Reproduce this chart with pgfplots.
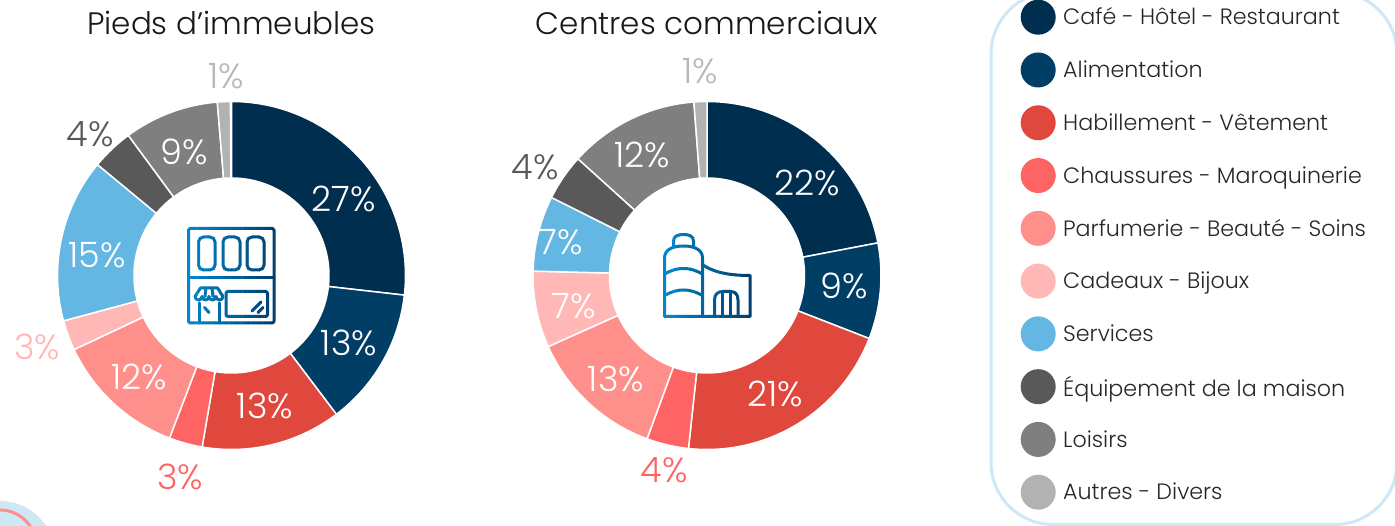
\documentclass[border=0pt]{standalone}
\usepackage{fontspec}
\setmainfont{Poppins Light}
\usepackage{pgfplots}
\usepackage{pgfplotstable}
\pgfplotsset{compat=1.18}

\definecolor{c0}{HTML}{002E4F}
\definecolor{c1}{HTML}{003E66}
\definecolor{c2}{HTML}{E0483E}
\definecolor{c3}{HTML}{FF6464}
\definecolor{c4}{HTML}{FF8F8B}
\definecolor{c5}{HTML}{FFB8B6}
\definecolor{c6}{HTML}{65B7E3}
\definecolor{c7}{HTML}{595959}
\definecolor{c8}{HTML}{7F7F7F}
\definecolor{c9}{HTML}{B2B2B2}
\definecolor{pale}{HTML}{CFE8F6}
\definecolor{iconL}{HTML}{0087CB}
\definecolor{iconR}{HTML}{003F70}
\definecolor{onepc}{HTML}{B8B8B8}

% share (%), printed label, label offset from the ring centre (px), label colour
\pgfplotstableread{
value label lx ly lc
26.8 27 112.5 76.5 white
12.9 13 117.5 -67.5 white
13.0 13 33.5 -130.5 white
3.1 3 -51.5 -201.5 c3
12.2 12 -92.5 -101.5 white
2.8 3 -194.5 -71.5 c5
15.2 15 -134.5 20.5 white
3.9 4 -141.5 141.5 c7
8.8 9 -47.5 123.5 white
1.2 1 -5.5 199.5 onepc
}\pieds
\pgfplotstableread{
value label lx ly lc
22.0 22 100 92.5 white
8.9 9 137 -10.5 white
20.8 21 68 -118.5 white
3.9 4 -43 -194.5 c3
12.7 13 -91 -103.5 white
7.1 7 -133 -30.5 white
7.0 7 -146 33.5 white
4.3 4 -172 108.5 c7
12.1 12 -65 120.5 white
1.2 1 -7 204.5 onepc
}\centres

\newcommand\pctfont{\fontsize{35}{38}\selectfont}
\def\rOut{174}
\def\rIn{97.5}

% one ring slice, from #1 % to #2 %, clockwise from the top
\newcommand\ringslice[3]{%
  \pgfmathsetmacro\aS{90-3.6*#1}%
  \pgfmathsetmacro\aE{90-3.6*#2}%
  \pgfmathtruncatemacro\nS{max(2,ceil((\aS-\aE)/1.5))}%
  \gdef\pts{}%
  \foreach \k in {0,...,\nS}{%
    \pgfmathsetmacro\aK{\aS+(\aE-\aS)*\k/\nS}%
    \xdef\pts{\pts(\aK,\rOut)}}%
  \foreach \k in {\nS,...,0}{%
    \pgfmathsetmacro\aK{\aS+(\aE-\aS)*\k/\nS}%
    \xdef\pts{\pts(\aK,\rIn)}}%
  \xdef\pts{\pts(\aS,\rOut)}%
  \edef\tmp{\noexpand\addplot[forget plot,fill=#3,draw=white,line width=1.5pt,data cs=polar] coordinates {\pts};}%
  \tmp
}

\newcommand\ringchart[1]{%
  \gdef\cum{0}%
  \pgfplotsforeachungrouped \i in {0,...,9}{%
    \pgfplotstablegetelem{\i}{value}\of#1\let\val\pgfplotsretval
    \pgfmathsetmacro\nxt{\cum+\val}%
    \ringslice{\cum}{\nxt}{c\i}%
    \xdef\cum{\nxt}%
  }%
  \pgfplotsforeachungrouped \i in {0,...,9}{%
    \pgfplotstablegetelem{\i}{label}\of#1\let\lb\pgfplotsretval
    \pgfplotstablegetelem{\i}{lx}\of#1\let\lx\pgfplotsretval
    \pgfplotstablegetelem{\i}{ly}\of#1\let\ly\pgfplotsretval
    \pgfplotstablegetelem{\i}{lc}\of#1\let\lc\pgfplotsretval
    \edef\tmp{\noexpand\node[text=\lc,font=\noexpand\pctfont,inner sep=0pt] at (axis cs:\lx,\ly) {\lb\noexpand\%};}%
    \tmp
  }%
}

\pgfplotsset{ring/.style={
    x=1pt,y=1pt,
    anchor=origin,
    xmin=-200,xmax=200,ymin=-210,ymax=246.5,
    hide axis,clip=false,
    title style={at={(0.5,1)},anchor=center,inner sep=0pt,
      font=\fontsize{31}{36}\selectfont,text=black!90},
  }}

\newcommand\shopicon{%
  \begin{scope}[line width=3pt,line join=round,line cap=round]
    \draw[rounded corners=1.5pt] (188.5,228.5) rectangle (274,323);
    \draw (188.5,277.5) -- (274,277.5);
    \draw[rounded corners=5pt] (198.5,237) rectangle (215,270);
    \draw[rounded corners=5pt] (223,237) rectangle (240,270);
    \draw[rounded corners=5pt] (247,237) rectangle (264,270);
    \draw[rounded corners=1.5pt] (226,291.5) rectangle (267.5,316.5);
    \draw (252,311) -- (261,302) (258,312.5) -- (263,307.5);
    \draw (200.5,288) -- (217.5,288) -- (223,296.5)
      arc (0:180:3.5) arc (0:180:3.5) arc (0:180:3.5) arc (0:180:3.5) -- cycle;
    \draw (206,288) -- (205,296.5) (212,288) -- (213,296.5);
    \draw (199,303) -- (199,323) (219.5,303) -- (219.5,323);
    \draw (204.5,307.5) -- (209,312.5);
  \end{scope}%
}
\newcommand\centreicon{%
  \begin{scope}[line width=3pt,line join=round,line cap=round]
    \draw (664.5,316.5) -- (750,316.5) -- (750,275.5)
      .. controls (725,275.5) and (712,271) .. (703,265);
    \draw (664.5,316.5) -- (664.5,258) .. controls (664.5,250) and (672,246) .. (683.5,246)
      .. controls (695,246) and (702.5,250) .. (702.5,258) -- (702.5,316.5);
    \draw (673.5,246) -- (673.5,241) .. controls (673.5,236) and (678,234.5) .. (683.5,234.5)
      .. controls (689,234.5) and (693.5,236) .. (693.5,241) -- (693.5,246);
    \draw (664.5,274) .. controls (672,270) and (677,268.5) .. (683.5,268.5)
      .. controls (690,268.5) and (695,270) .. (702.5,274);
    \draw (664.5,295.5) .. controls (672,291.5) and (677,290) .. (683.5,290)
      .. controls (690,290) and (695,291.5) .. (702.5,295.5);
    \draw (714.5,316.5) -- (714.5,300) .. controls (714.5,294) and (718,291.5) .. (723,291.5)
      -- (730,291.5) .. controls (735,291.5) and (738,294) .. (738,300) -- (738,316.5);
    \draw (722,292) -- (722,316.5) (730,292) -- (730,316.5);
  \end{scope}%
}
% the icons run from light to dark blue, left to right
\newcommand\gradicon[3]{%
  \foreach \s in {0,...,15}{%
    \pgfmathsetmacro\p{100-\s*100/15}%
    \begin{scope}
      \clip ({#1+\s*(#2-#1)/16},220) rectangle ({#1+(\s+1)*(#2-#1)/16+0.4},330);
      \begin{scope}[color=iconL!\p!iconR,draw=iconL!\p!iconR]
        #3
      \end{scope}
    \end{scope}
  }%
}

\begin{document}
\begin{tikzpicture}
  \useasboundingbox (0pt,0pt) rectangle (1395pt,526pt);
  \fill[white] (0pt,0pt) rectangle (1395pt,526pt);

  % page furniture, in pixel coordinates of the slide
  \begin{scope}[x=1pt,y=-1pt,shift={(0pt,526pt)}]
    \fill[pale] (0,556) circle (55);
    \draw[c4,line width=3pt] (0,546) circle (36);
    \draw[pale,line width=3pt,rounded corners=62pt] (991,-8) rectangle (1397,524.5);
  \end{scope}

  \begin{axis}[ring,at={(231.5pt,250.5pt)},
      title={Pieds d’immeubles},
      legend style={at={(axis cs:789,276)},anchor=north west,draw=none,fill=none,
        inner sep=0pt,row sep=17.78pt,column sep=7.5pt,
        font=\fontsize{22.2}{26}\selectfont,text=black!85,
        nodes={inner sep=0pt}},
      legend cell align=left,
      legend image code/.code={\path[#1] (17.5pt,0pt) circle (17.5pt);},
    ]
    \ringchart{\pieds}
    \addlegendimage{fill=c0,draw=none}\addlegendentry{Café - Hôtel - Restaurant}
    \addlegendimage{fill=c1,draw=none}\addlegendentry{Alimentation}
    \addlegendimage{fill=c2,draw=none}\addlegendentry{Habillement - Vêtement}
    \addlegendimage{fill=c3,draw=none}\addlegendentry{Chaussures - Maroquinerie}
    \addlegendimage{fill=c4,draw=none}\addlegendentry{Parfumerie - Beauté - Soins}
    \addlegendimage{fill=c5,draw=none}\addlegendentry{Cadeaux - Bijoux}
    \addlegendimage{fill=c6,draw=none}\addlegendentry{Services}
    \addlegendimage{fill=c7,draw=none}\addlegendentry{Équipement de la maison}
    \addlegendimage{fill=c8,draw=none}\addlegendentry{Loisirs}
    \addlegendimage{fill=c9,draw=none}\addlegendentry{Autres - Divers}
  \end{axis}

  \begin{axis}[ring,at={(707pt,250.5pt)},
      title={Centres commerciaux},
    ]
    \ringchart{\centres}
  \end{axis}

  \begin{scope}[x=1pt,y=-1pt,shift={(0pt,526pt)}]
    \gradicon{186}{276}{\shopicon}
    \gradicon{662}{752}{\centreicon}
  \end{scope}
\end{tikzpicture}
\end{document}
